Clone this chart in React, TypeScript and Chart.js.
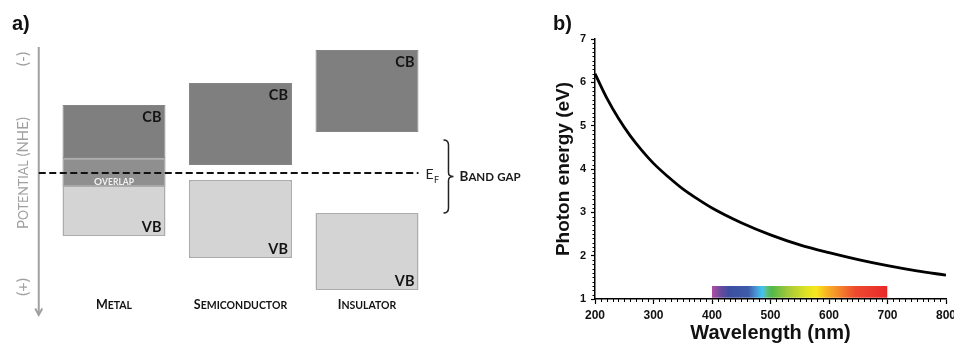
import React, { useEffect, useRef } from "react";
import { Chart, registerables } from "chart.js";

Chart.register(...registerables);

// ---------- Panel a) data ----------
const materials = ["Metal", "Semiconductor", "Insulator"];
const cbRanges: [number, number][] = [
  [-1.36, -0.3],
  [-1.8, -0.16],
  [-2.46, -0.82],
];
const vbRanges: [number, number][] = [
  [-0.3, 1.26],
  [0.14, 1.7],
  [0.8, 2.34],
];
const overlapRanges: ([number, number] | null)[] = [[-0.3, 0.28], null, null];
const fermiLevel = 0;

// ---------- Panel b) data ----------
const wavelengths = [200, 220, 240, 260, 280, 300, 325, 350, 375, 400, 450, 500, 550, 600, 650, 700, 750, 800];
const energies = [6.2, 5.64, 5.17, 4.77, 4.43, 4.13, 3.82, 3.54, 3.31, 3.1, 2.76, 2.48, 2.25, 2.07, 1.91, 1.77, 1.65, 1.55];
const spectrumStart = 400;
const spectrumEnd = 700;
const spectrumTop = 1.3;
const spectrumBottom = 1.03;
const spectrumStopsNm = [400, 415, 430, 462, 476, 486, 493, 502, 530, 560, 578, 595, 615, 645, 700];
const spectrumColors = [
  "#b04ea2", "#6a4a9e", "#3b4fa1", "#3e5ca9", "#4a98d6", "#3ec6ef", "#5cbf8c", "#52b848",
  "#a4c93a", "#dde223", "#f8e71c", "#f8b722", "#f48c2a", "#ee4a2f", "#e8282a",
];

const SANS = '"Liberation Sans", Arial, sans-serif';
const LATO = 'Lato, "Open Sans", sans-serif';

function capsParts(text: string, big: number, small: number): [string, number][] {
  const parts: [string, number][] = [];
  for (const ch of text) {
    const isLower = ch !== ch.toUpperCase();
    const size = isLower ? small : big;
    const c = ch.toUpperCase();
    const last = parts[parts.length - 1];
    if (last && last[1] === size) last[0] += c;
    else parts.push([c, size]);
  }
  return parts;
}

function drawCaps(
  ctx: CanvasRenderingContext2D,
  text: string,
  big: number,
  small: number,
  x: number,
  y: number,
  align: "left" | "center",
  weight: string,
  color: string
) {
  const parts = capsParts(text, big, small);
  const widths = parts.map(([t, s]) => {
    ctx.font = `${weight} ${s}px ${LATO}`;
    return ctx.measureText(t).width;
  });
  const total = widths.reduce((a, b) => a + b, 0);
  let cx = align === "center" ? x - total / 2 : x;
  ctx.textAlign = "left";
  ctx.textBaseline = "alphabetic";
  ctx.fillStyle = color;
  parts.forEach(([t, s], i) => {
    ctx.font = `${weight} ${s}px ${LATO}`;
    ctx.fillText(t, cx, y);
    cx += widths[i];
  });
}

const bandPlugin = {
  id: "bandDiagram",
  afterDatasetsDraw(chart: any) {
    const { ctx } = chart;
    const xs = chart.scales.x;
    const ys = chart.scales.y;
    const area = chart.chartArea;
    ctx.save();

    // panel label
    ctx.fillStyle = "#111";
    ctx.font = `bold 20px ${SANS}`;
    ctx.textAlign = "left";
    ctx.textBaseline = "alphabetic";
    ctx.fillText("a)", 12, 30);

    // potential arrow
    const ax = area.left - 12;
    ctx.strokeStyle = "#a0a0a0";
    ctx.lineWidth = 2;
    ctx.beginPath();
    ctx.moveTo(ax, area.top + 4);
    ctx.lineTo(ax, area.bottom + 12);
    ctx.stroke();
    ctx.beginPath();
    ctx.moveTo(ax - 3.5, area.bottom + 5.5);
    ctx.lineTo(ax, area.bottom + 12);
    ctx.lineTo(ax + 3.5, area.bottom + 5.5);
    ctx.stroke();

    // rotated potential labels
    const rotText = (cy: number, fn: () => void) => {
      ctx.save();
      ctx.translate(28, cy);
      ctx.rotate(-Math.PI / 2);
      fn();
      ctx.restore();
    };
    rotText(ys.getPixelForValue(fermiLevel), () =>
      drawCaps(ctx, "Potential (NHE)", 15, 12.5, 0, 0, "center", "normal", "#a0a0a0")
    );
    rotText(59, () => {
      ctx.font = `normal 16px ${LATO}`;
      ctx.fillStyle = "#a0a0a0";
      ctx.textAlign = "center";
      ctx.fillText("(-)", 0, 0);
    });
    rotText(287, () => {
      ctx.font = `normal 16px ${LATO}`;
      ctx.fillStyle = "#a0a0a0";
      ctx.textAlign = "center";
      ctx.fillText("(+)", 0, 0);
    });

    // CB / VB labels
    const cbMeta = chart.getDatasetMeta(0);
    const ovMeta = chart.getDatasetMeta(1);
    const vbMeta = chart.getDatasetMeta(2);
    ctx.fillStyle = "#141414";
    ctx.font = `bold 14.5px ${LATO}`;
    ctx.textAlign = "right";
    cbMeta.data.forEach((el: any) => {
      const top = Math.min(el.y, el.base);
      ctx.fillText("CB", el.x + el.width / 2 - 4, top + 17);
    });
    vbMeta.data.forEach((el: any) => {
      const bottom = Math.max(el.y, el.base);
      ctx.fillText("VB", el.x + el.width / 2 - 4, bottom - 4.5);
    });

    // overlap label
    ovMeta.data.forEach((el: any, i: number) => {
      if (overlapRanges[i] == null) return;
      const bottom = Math.max(el.y, el.base);
      drawCaps(ctx, "Overlap", 10, 8.5, el.x, bottom - 2.5, "center", "bold", "#f2f2f2");
    });

    // Fermi level dashed line
    const fy = ys.getPixelForValue(fermiLevel);
    const lastBar = cbMeta.data[cbMeta.data.length - 1];
    const xEnd = lastBar.x + lastBar.width / 2;
    ctx.strokeStyle = "#111";
    ctx.lineWidth = 2;
    ctx.setLineDash([7, 3.5]);
    ctx.beginPath();
    ctx.moveTo(ax, fy);
    ctx.lineTo(xEnd, fy);
    ctx.stroke();
    ctx.setLineDash([]);

    // E_F
    ctx.fillStyle = "#222";
    ctx.textAlign = "left";
    ctx.font = `normal 14px ${LATO}`;
    ctx.fillText("E", xEnd + 7, fy + 6);
    ctx.font = `normal 9px ${LATO}`;
    ctx.fillText("F", xEnd + 15.5, fy + 10);

    // brace for band gap
    const top = ys.getPixelForValue(cbRanges[2][1]) + 8;
    const bottom = ys.getPixelForValue(vbRanges[2][0]);
    const mid = (top + bottom) / 2;
    const bx = xEnd + 25;
    const r = 4;
    ctx.strokeStyle = "#222";
    ctx.lineWidth = 1.5;
    ctx.beginPath();
    ctx.moveTo(bx, top);
    ctx.quadraticCurveTo(bx + r + 1, top, bx + r + 1, top + r + 1);
    ctx.lineTo(bx + r + 1, mid - r);
    ctx.quadraticCurveTo(bx + r + 1, mid, bx + 2 * r + 2, mid);
    ctx.quadraticCurveTo(bx + r + 1, mid, bx + r + 1, mid + r);
    ctx.lineTo(bx + r + 1, bottom - r - 1);
    ctx.quadraticCurveTo(bx + r + 1, bottom, bx, bottom);
    ctx.stroke();
    drawCaps(ctx, "Band gap", 13.5, 11.5, bx + 16, mid + 4.5, "left", "bold", "#1a1a1a");

    // category labels
    materials.forEach((m, i) => {
      drawCaps(ctx, m, 12.5, 10.5, xs.getPixelForValue(i), area.bottom + 6, "center", "bold", "#141414");
    });

    ctx.restore();
  },
};

const minorTicksPlugin = {
  id: "minorTicks",
  afterDraw(chart: any) {
    const { ctx } = chart;
    const xs = chart.scales.x;
    const ys = chart.scales.y;
    ctx.save();
    ctx.strokeStyle = "#000";
    ctx.lineWidth = 1;
    for (let v = xs.min + 10; v < xs.max; v += 10) {
      if (Math.round(v) % 100 === 0) continue;
      const px = Math.round(xs.getPixelForValue(v)) + 0.5;
      ctx.beginPath();
      ctx.moveTo(px, xs.top);
      ctx.lineTo(px, xs.top + 3);
      ctx.stroke();
    }
    for (let k = 1; k < (ys.max - ys.min) * 10; k++) {
      if (k % 10 === 0) continue;
      const v = ys.min + k / 10;
      const py = Math.round(ys.getPixelForValue(v)) + 0.5;
      ctx.beginPath();
      ctx.moveTo(ys.right - 2.5, py);
      ctx.lineTo(ys.right, py);
      ctx.stroke();
    }
    // panel label
    ctx.fillStyle = "#111";
    ctx.font = `bold 20px ${SANS}`;
    ctx.textAlign = "left";
    ctx.textBaseline = "alphabetic";
    ctx.fillText("b)", 13, 30);
    ctx.restore();
  },
};

export default function App() {
  const refA = useRef<HTMLCanvasElement>(null);
  const refB = useRef<HTMLCanvasElement>(null);

  useEffect(() => {
    const chartA = new Chart(refA.current as HTMLCanvasElement, {
      type: "bar",
      data: {
        labels: materials,
        datasets: [
          {
            label: "CB",
            data: cbRanges as any,
            backgroundColor: "#7f7f7f",
            borderColor: "#858585",
            borderWidth: 1,
            borderSkipped: false,
            grouped: false,
          } as any,
          {
            label: "Overlap",
            data: overlapRanges as any,
            backgroundColor: "#8f8f8f",
            borderColor: "#acacac",
            borderWidth: 1.5,
            borderSkipped: false,
            grouped: false,
          } as any,
          {
            label: "VB",
            data: vbRanges as any,
            backgroundColor: "#d4d4d4",
            borderColor: "#acacac",
            borderWidth: 1.5,
            borderSkipped: false,
            grouped: false,
          } as any,
        ],
      },
      options: {
        responsive: false,
        animation: false,
        events: [],
        layout: { padding: { left: 50.75, right: 109.75, top: 43, bottom: 40 } },
        datasets: { bar: { categoryPercentage: 1, barPercentage: 0.814 } } as any,
        plugins: { legend: { display: false }, tooltip: { enabled: false } },
        scales: {
          x: { display: false },
          y: { display: false, reverse: true, min: -2.6, max: 2.6 },
        },
      },
      plugins: [bandPlugin],
    });

    const tickFont = { family: SANS, size: 12, weight: "bold" as const };
    const chartB = new Chart(refB.current as HTMLCanvasElement, {
      type: "line",
      data: {
        datasets: [
          {
            label: "Photon energy",
            data: wavelengths.map((w, i) => ({ x: w, y: energies[i] })),
            borderColor: "#000",
            borderWidth: 2.8,
            pointRadius: 0,
            cubicInterpolationMode: "monotone",
            fill: false,
          },
          {
            label: "Visible spectrum",
            data: [
              { x: spectrumStart, y: spectrumTop },
              { x: spectrumEnd, y: spectrumTop },
            ],
            borderWidth: 0,
            borderColor: "rgba(0,0,0,0)",
            pointRadius: 0,
            fill: { value: spectrumBottom },
            backgroundColor: (c: any) => {
              const chart = c.chart;
              if (!chart.chartArea || !chart.scales.x) return "rgba(0,0,0,0)";
              const xs = chart.scales.x;
              const first = spectrumStopsNm[0];
              const last = spectrumStopsNm[spectrumStopsNm.length - 1];
              const g = chart.ctx.createLinearGradient(xs.getPixelForValue(first), 0, xs.getPixelForValue(last), 0);
              spectrumStopsNm.forEach((nm, i) => g.addColorStop((nm - first) / (last - first), spectrumColors[i]));
              return g;
            },
          } as any,
        ],
      },
      options: {
        responsive: false,
        animation: false,
        events: [],
        layout: { padding: { top: 39, right: 8, left: 0, bottom: 0 } },
        plugins: { legend: { display: false }, tooltip: { enabled: false } },
        scales: {
          x: {
            type: "linear",
            min: 200,
            max: 800,
            ticks: { stepSize: 100, font: tickFont, color: "#111", padding: 4, maxRotation: 0 },
            grid: { drawOnChartArea: false, tickLength: 5, color: "#000", tickWidth: 1.2 },
            border: { color: "#000", width: 1.5 },
            title: {
              display: true,
              text: "Wavelength (nm)",
              color: "#111",
              font: { family: SANS, size: 20, weight: "bold", lineHeight: 1 },
              padding: { top: 0, bottom: 0 },
            },
            afterFit: (s: any) => {
              s.height = 44;
              s.paddingLeft = 0;
              s.paddingRight = 0;
            },
          },
          y: {
            min: 1,
            max: 7,
            ticks: { stepSize: 1, font: { family: SANS, size: 11, weight: "bold" }, color: "#111", padding: 5 },
            grid: { drawOnChartArea: false, tickLength: 4, color: "#000", tickWidth: 1.2 },
            border: { color: "#000", width: 1.5 },
            title: {
              display: true,
              text: "Photon energy (eV)",
              color: "#111",
              font: { family: SANS, size: 19, weight: "bold" },
              padding: { top: 12, bottom: 0 },
            },
            afterFit: (s: any) => {
              s.width = 55;
              s.paddingTop = 0;
              s.paddingBottom = 0;
            },
          },
        },
      },
      plugins: [minorTicksPlugin],
    });

    return () => {
      chartA.destroy();
      chartB.destroy();
    };
  }, []);

  return (
    <div style={{ position: "absolute", left: 0, top: 0, width: 954, height: 343, background: "#fff" }}>
      <canvas
        ref={refA}
        width={540}
        height={343}
        style={{ position: "absolute", left: 0, top: 0, width: 540, height: 343 }}
      />
      <canvas
        ref={refB}
        width={414}
        height={343}
        style={{ position: "absolute", left: 540, top: 0, width: 414, height: 343 }}
      />
    </div>
  );
}
